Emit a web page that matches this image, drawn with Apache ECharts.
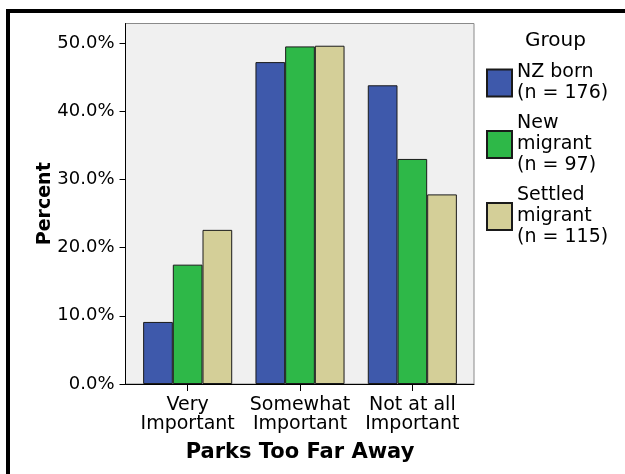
<!DOCTYPE html>
<html>
<head>
<meta charset="utf-8">
<script src="https://cdn.jsdelivr.net/npm/echarts@6/dist/echarts.min.js"></script>
<style>
  html, body { margin: 0; padding: 0; background: #ffffff; overflow: hidden; width: 625px; height: 474px; }
  #frame { position: absolute; left: 6px; top: 9px; width: 619px; height: 465px;
           border-top: 4px solid #000; border-left: 4px solid #000; box-sizing: border-box; }
  #chart { position: absolute; left: 0; top: 0; width: 625px; height: 474px; }
</style>
</head>
<body>
<div id="frame"></div>
<div id="chart"></div>
<script>
// ---- data ----
const categories = ['Very\nImportant', 'Somewhat\nImportant', 'Not at all\nImportant'];
const groupNames = ['NZ born\n(n = 176)', 'New\nmigrant\n(n = 97)', 'Settled\nmigrant\n(n = 115)'];
const nzBorn = [9.1, 47.2, 43.8];
const newMigrant = [17.5, 49.5, 33.0];
const settledMigrant = [22.6, 49.6, 27.8];
const yTicks = [0, 10, 20, 30, 40, 50];

const colors = ['#3e59ab', '#2eb848', '#d4cf98'];
const FONT = 'DejaVu Sans';
const seriesValues = [nzBorn, newMigrant, settledMigrant];

const chart = echarts.init(document.getElementById('chart'), null, { renderer: 'canvas' });

const option = {
  animation: false,
  backgroundColor: 'transparent',
  title: {
    text: 'Group',
    left: 525, top: 31, padding: 0,
    textStyle: { fontFamily: FONT, fontSize: 20, fontWeight: 'normal', color: '#000' }
  },
  legend: {
    orient: 'vertical',
    left: 486, top: 62, padding: 0,
    itemWidth: 25, itemHeight: 27, itemGap: 9,
    icon: 'rect',
    data: groupNames,
    textStyle: { fontFamily: FONT, fontSize: 19, lineHeight: 21, color: '#000', padding: [0, 0, 0, 0] }
  },
  grid: [
    { left: 125.5, right: 151, top: 23.5, bottom: 90, show: true,
      backgroundColor: '#f0f0f0', borderColor: '#8a8a8a', borderWidth: 1 },
    { left: 131.5, right: 156.5, top: 43, bottom: 90 }
  ],
  xAxis: [
    { gridIndex: 0, type: 'value', min: 0, max: 1,
      axisLine: { show: true, lineStyle: { color: '#000', width: 1 } },
      axisTick: { show: false }, axisLabel: { show: false }, splitLine: { show: false } },
    { gridIndex: 1, type: 'category', data: categories,
      axisLine: { show: false },
      axisTick: { show: true, alignWithLabel: true, length: 7, lineStyle: { color: '#000' } },
      axisLabel: { fontFamily: FONT, fontSize: 19, lineHeight: 19, color: '#000', margin: 12, interval: 0 },
      name: 'Parks Too Far Away', nameLocation: 'middle', nameGap: 58,
      nameTextStyle: { fontFamily: FONT, fontSize: 21, fontWeight: 'bold', color: '#000' } }
  ],
  yAxis: [
    { gridIndex: 0, type: 'value', min: 0, max: 1,
      axisLine: { show: true, lineStyle: { color: '#000', width: 1 } },
      axisTick: { show: false }, axisLabel: { show: false }, splitLine: { show: false },
      name: 'Percent', nameLocation: 'middle', nameRotate: 90, nameGap: 71,
      nameTextStyle: { fontFamily: FONT, fontSize: 19, fontWeight: 'bold', color: '#000' } },
    { gridIndex: 1, type: 'value', min: yTicks[0], max: yTicks[yTicks.length - 1], interval: 10,
      offset: 6,
      axisLine: { show: false },
      axisTick: { show: true, length: 6, lineStyle: { color: '#000' } },
      axisLabel: { fontFamily: FONT, fontSize: 18, color: '#000', margin: 11,
                   formatter: v => v.toFixed(1) + '%' },
      splitLine: { show: false } }
  ],
  series: groupNames.map((name, i) => ({
    name: name,
    type: 'bar',
    xAxisIndex: 1, yAxisIndex: 1,
    data: seriesValues[i],
    barGap: '0%',
    barCategoryGap: '20.7%',
    itemStyle: { color: colors[i], borderColor: '#1a1a1a', borderWidth: 1 }
  }))
};
chart.setOption(option);
</script>
</body>
</html>
